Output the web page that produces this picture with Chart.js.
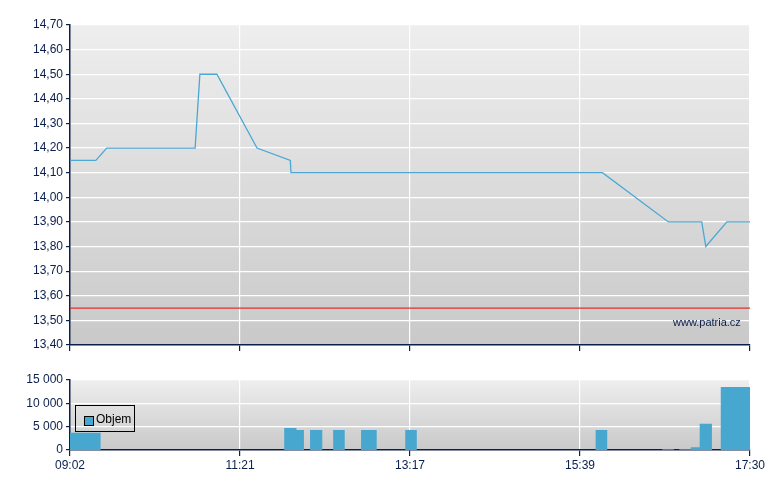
<!DOCTYPE html>
<html>
<head>
<meta charset="utf-8">
<script src="https://cdn.jsdelivr.net/npm/chart.js@4"></script>
<style>
  body { margin: 0; background: #fff; font-family: "Liberation Sans", Arial, sans-serif; }
  #wrap { position: relative; width: 780px; height: 490px; }
  #top { position: absolute; left: 0; top: 0; }
  #bot { position: absolute; left: 0; top: 365px; }
  .legend { position: absolute; left: 75px; top: 405px; width: 60px; height: 27px; border: 1px solid #000; box-sizing: border-box; font-size: 12px; color: #000; }
  .legend span.box { position: absolute; left: 8px; top: 10px; width: 8px; height: 8px; background: #47a7cf; border: 1px solid #000; }
  .legend span.txt { position: absolute; left: 20px; top: 6px; }
  .mark { position: absolute; left: 673px; top: 316px; font-size: 11px; color: #0a1f4c; }
</style>
</head>
<body>
<div id="wrap">
  <canvas id="top" width="780" height="360"></canvas>
  <canvas id="bot" width="780" height="125"></canvas>
  <div class="legend"><span class="box"></span><span class="txt">Objem</span></div>
  <div class="mark">www.patria.cz</div>
</div>
<script>
// casova osa - pozice 0..100, popisky po ctvrtinach
const timeLabels = ['09:02', '11:21', '13:17', '15:39', '17:30'];

// kurz
const priceX = [0, 3.8, 5.4, 18.4, 19.1, 21.6, 27.5, 32.4, 32.5, 78.3, 88.0, 92.9, 93.5, 96.6, 100];
const priceY = [14.15, 14.15, 14.20, 14.20, 14.50, 14.50, 14.20, 14.15, 14.10, 14.10, 13.90, 13.90, 13.80, 13.90, 13.90];
const refPrice = 13.55;

// objem - zacatek, konec sloupce a hodnota
const volStart = [0, 31.5, 33.3, 35.3, 38.7, 42.8, 49.3, 77.3, 87.1, 89.6, 91.3, 92.6, 95.7];
const volEnd   = [4.5, 33.3, 34.4, 37.1, 40.4, 45.1, 51.0, 79.0, 88.8, 91.3, 92.6, 94.4, 100];
const volValue = [3700, 4700, 4300, 4300, 4300, 4300, 4300, 4300, 150, 150, 600, 5600, 13500];

const navy = '#0a1f4c';
const lineBlue = '#4aa8d3';
const barBlue = '#47a7cf';

function fmtNum(v, dec) {
  return v.toFixed(dec).replace('.', ',').replace(/\B(?=(\d{3})+(?!\d))/g, ' ');
}

// gradient pozadi plochy grafu
const bgPlugin = {
  id: 'bg',
  beforeDraw(chart) {
    const a = chart.chartArea, ctx = chart.ctx;
    const g = ctx.createLinearGradient(0, a.top, 0, a.bottom);
    g.addColorStop(0, '#eeeeee');
    g.addColorStop(1, '#c9c9c9');
    ctx.save();
    ctx.fillStyle = g;
    ctx.fillRect(a.left, a.top, a.right - a.left, a.bottom - a.top);
    ctx.restore();
  }
};

function xScale(showLabels, h) {
  return {
    type: 'linear', min: 0, max: 100,
    afterBuildTicks(s) { s.ticks = [0, 25, 50, 75, 100].map(v => ({ value: v })); },
    afterFit(s) { s.height = h; },
    grid: { color: '#ffffff', lineWidth: 1.2, tickColor: navy, tickLength: 6 },
    border: { color: navy, width: 1.5 },
    ticks: {
      display: showLabels, color: navy, maxRotation: 0, padding: 2,
      font: { family: 'Liberation Sans, Arial', size: 12 },
      callback: (v) => timeLabels[Math.round(v / 25)]
    }
  };
}

const pricePoints = priceX.map((x, i) => ({ x: x, y: priceY[i] }));

new Chart(document.getElementById('top'), {
  type: 'line',
  data: {
    datasets: [
      { data: pricePoints, borderColor: lineBlue, borderWidth: 1.3, pointRadius: 0, tension: 0 },
      { data: [{ x: 0, y: refPrice }, { x: 100, y: refPrice }], borderColor: '#e0302c', borderWidth: 1.2, pointRadius: 0 }
    ]
  },
  options: {
    responsive: false, animation: false,
    layout: { padding: { top: 25, right: 30, left: 0, bottom: 0 } },
    plugins: { legend: { display: false }, tooltip: { enabled: false } },
    scales: {
      x: xScale(false, 15),
      y: {
        min: 13.4, max: 14.7,
        afterBuildTicks(s) {
          const t = [];
          for (let i = 0; i <= 13; i++) t.push({ value: 13.4 + i * 0.1 });
          s.ticks = t;
        },
        afterFit(s) { s.width = 70; },
        grid: { color: '#ffffff', lineWidth: 1.2, tickColor: navy, tickLength: 4 },
        border: { color: navy, width: 1.5 },
        ticks: { color: navy, padding: 3, font: { family: 'Liberation Sans, Arial', size: 12 }, callback: (v) => fmtNum(v, 2) }
      }
    }
  },
  plugins: [bgPlugin]
});

// sloupce objemu jako vyplnene obrysy (ruzne sirky)
const volPoints = [];
volStart.forEach((s, i) => {
  volPoints.push({ x: s, y: 0 }, { x: s, y: volValue[i] }, { x: volEnd[i], y: volValue[i] }, { x: volEnd[i], y: 0 });
});

new Chart(document.getElementById('bot'), {
  type: 'line',
  data: {
    datasets: [
      { label: 'Objem', data: volPoints, borderWidth: 0, borderColor: 'rgba(0,0,0,0)', backgroundColor: barBlue, fill: 'origin', pointRadius: 0, tension: 0 }
    ]
  },
  options: {
    responsive: false, animation: false,
    layout: { padding: { top: 15, right: 30, left: 0, bottom: 0 } },
    plugins: { legend: { display: false }, tooltip: { enabled: false } },
    scales: {
      x: xScale(true, 40),
      y: {
        min: 0, max: 15000,
        afterBuildTicks(s) { s.ticks = [0, 5000, 10000, 15000].map(v => ({ value: v })); },
        afterFit(s) { s.width = 70; },
        grid: { color: '#ffffff', lineWidth: 1.2, tickColor: navy, tickLength: 4 },
        border: { color: navy, width: 1.5 },
        ticks: { color: navy, padding: 3, font: { family: 'Liberation Sans, Arial', size: 12 }, callback: (v) => fmtNum(v, 0) }
      }
    }
  },
  plugins: [bgPlugin]
});
</script>
</body>
</html>
